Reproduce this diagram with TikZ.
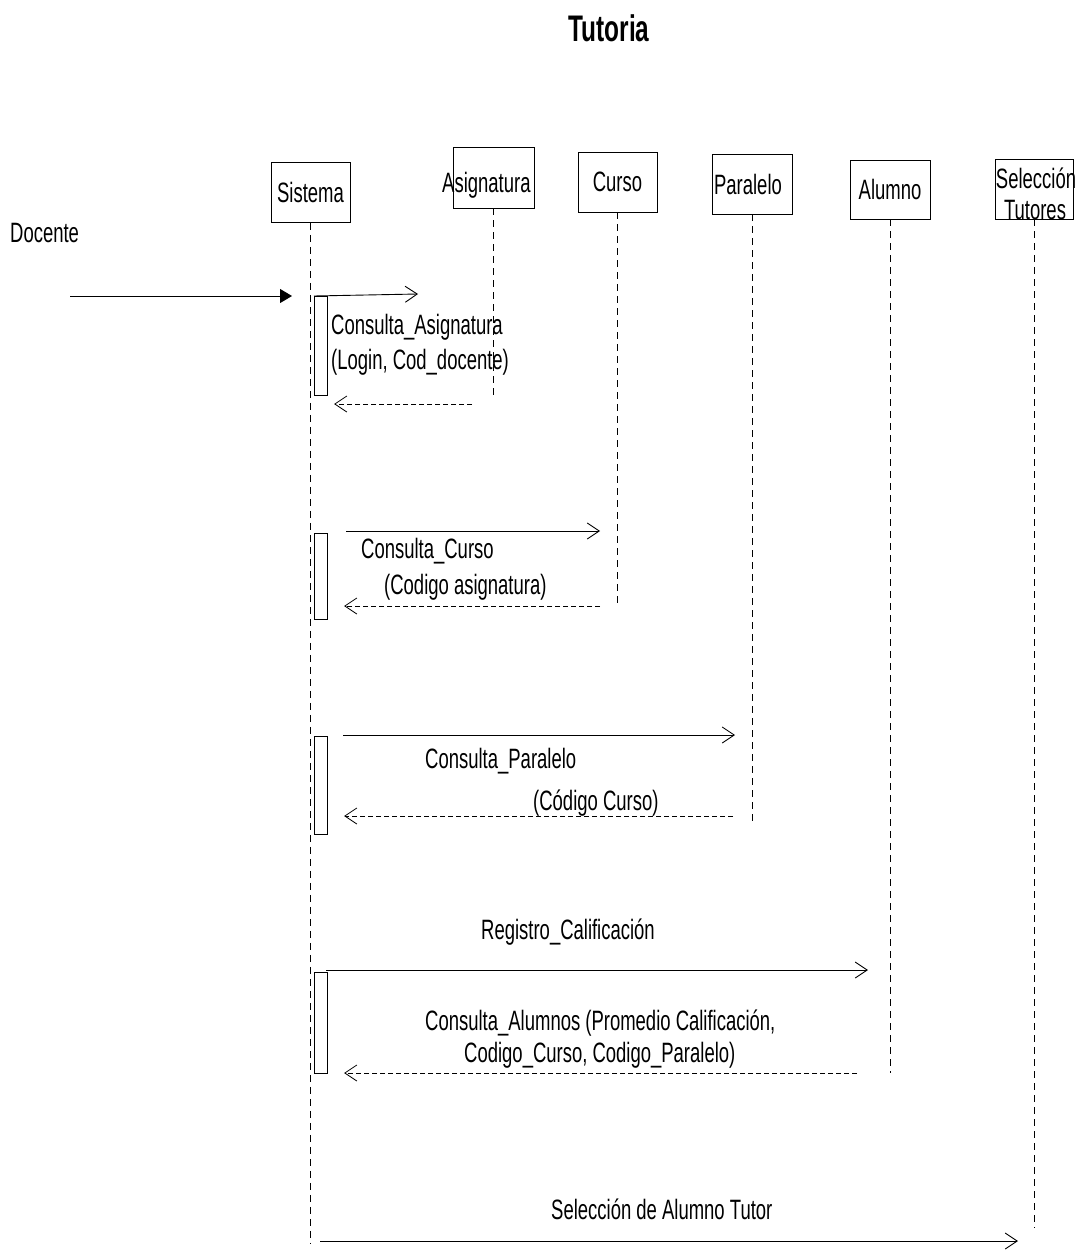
\documentclass[tikz,border=0pt]{standalone}
\usepackage{fontspec}
\setmainfont[FakeStretch=0.66]{Liberation Sans}
\usetikzlibrary{arrows.meta}
\begin{document}
\begin{tikzpicture}[x=1pt,y=-1pt,
  txt/.style={font=\fontsize{28}{32}\selectfont, inner sep=0pt},
  lbl/.style={txt, anchor=west},
  head/.style={draw, line width=0.8pt, minimum width=79pt, minimum height=60pt, inner sep=0pt, txt},
  life/.style={line width=0.6pt, dash pattern=on 7pt off 5pt},
  act/.style={draw, line width=0.8pt, minimum width=13pt, inner sep=0pt, anchor=north west},
  call/.style={line width=0.9pt, -{Straight Barb[length=12pt,width=16pt,line width=0.9pt]}},
  reply/.style={line width=0.8pt, dash pattern=on 5pt off 3pt, -{Straight Barb[length=12pt,width=16pt,line width=0.8pt,sep]}},
  found/.style={line width=1pt, -{Triangle[length=12pt,width=14pt]}}
]
\useasboundingbox (0,0) rectangle (1086,1252);

% title
\node[font=\bfseries\fontsize{37}{42}\selectfont, inner sep=0pt] (title) at (609,28) {Tutoria};

% lifeline heads
\node[head] (sis) at (310.5,192.5) {Sistema};
\node[head, minimum width=81pt, minimum height=61pt] (asg) at (493.5,177.5) {};
\node[txt, anchor=west] (asgt) at (442,185) {Asignatura};
\node[head] (cur) at (617.5,182) {Curso};
\node[head, minimum width=80pt] (par) at (752,184) {\hspace*{-8pt}Paralelo};
\node[head, minimum width=80pt, minimum height=59pt] (alu) at (890,189.5) {Alumno};
\node[head, minimum width=78pt, minimum height=60pt] (sel) at (1034,189) {};
\node[txt] (selt1) at (1036,178) {Selección};
\node[txt] (selt2) at (1035,210) {Tutores};

% lifelines
\coordinate (sisE) at (310.5,1244);
\coordinate (asgE) at (493.5,398);
\coordinate (curE) at (617.5,604);
\coordinate (parE) at (752,822);
\coordinate (aluE) at (890,1073);
\coordinate (selE) at (1034,1228);
\draw[life] (sis.south) -- (sisE);
\draw[life] (asg.south) -- (asgE);
\draw[life] (cur.south) -- (curE);
\draw[life] (par.south) -- (parE);
\draw[life] (alu.south) -- (aluE);
\draw[life] (sel.south) -- (selE);

% actor
\node[lbl] (doc) at (10,233) {Docente};
\coordinate (d0) at (70,296);
\coordinate (d1) at (292,296);
\draw[found] (d0) -- (d1);

% activation bars
\node[act, minimum height=99pt] (a1) at (314,296) {};
\node[act, minimum height=86pt] (a2) at (314,533) {};
\node[act, minimum height=98pt] (a3) at (314,736) {};
\node[act, minimum height=101pt] (a4) at (314,972) {};

% Consulta_Asignatura
\coordinate (m1a) at (418,294);
\draw[call] (a1.north west) -- (m1a);
\node[lbl] (m1t1) at (331,327) {Consulta\_Asignatura};
\node[lbl] (m1t2) at (331,362) {(Login, Cod\_docente)};
\coordinate (r1a) at (472,404);
\coordinate (r1b) at (333,404);
\draw[reply] (r1a) -- (r1b);

% Consulta_Curso
\coordinate (m2a) at (346,531);
\coordinate (m2b) at (600,531);
\draw[call] (m2a) -- (m2b);
\node[lbl] (m2t1) at (361,551) {Consulta\_Curso};
\node[lbl] (m2t2) at (384,587) {(Codigo asignatura)};
\coordinate (r2a) at (600,606);
\coordinate (r2b) at (343,606);
\draw[reply] (r2a) -- (r2b);

% Consulta_Paralelo
\coordinate (m3a) at (343,735);
\coordinate (m3b) at (735,735);
\draw[call] (m3a) -- (m3b);
\node[lbl] (m3t1) at (425,761) {Consulta\_Paralelo};
\node[lbl] (m3t2) at (533,803) {(Código Curso)};
\coordinate (r3a) at (733,816);
\coordinate (r3b) at (343,816);
\draw[reply] (r3a) -- (r3b);

% Registro_Calificacion / Consulta_Alumnos
\node[lbl] (m4t) at (481,932) {Registro\_Calificación};
\coordinate (m4a) at (326,970);
\coordinate (m4b) at (868,970);
\draw[call] (m4a) -- (m4b);
\node[lbl] (r4t1) at (425,1023) {Consulta\_Alumnos (Promedio Calificación,};
\node[lbl] (r4t2) at (464,1055) {Codigo\_Curso, Codigo\_Paralelo)};
\coordinate (r4a) at (857,1073);
\coordinate (r4b) at (343,1073);
\draw[reply] (r4a) -- (r4b);

% Seleccion de Alumno Tutor
\node[lbl] (m5t) at (551,1209) {Selección de Alumno Tutor};
\coordinate (m5a) at (320,1241);
\coordinate (m5b) at (1018,1241);
\draw[call] (m5a) -- (m5b);
\end{tikzpicture}
\end{document}
